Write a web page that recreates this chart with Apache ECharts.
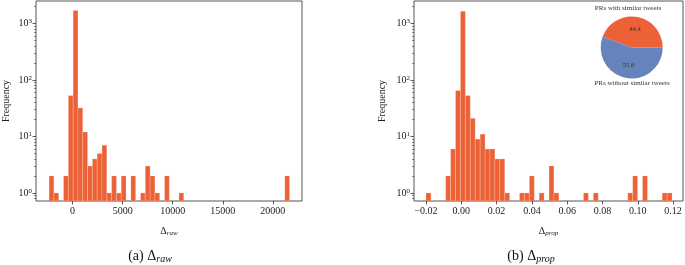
<!DOCTYPE html>
<html><head><meta charset="utf-8">
<script src="https://cdn.jsdelivr.net/npm/echarts@6/dist/echarts.min.js"></script>
<style>html,body{margin:0;padding:0;background:#fff}#c{width:685px;height:265px}</style>
</head><body><div id="c"></div>
<script>
// ---- data ----
const rawBinStart = -2350;
const rawBinWidth = 480.4;
const rawCounts = [2,1,0,2,53,1700,32,12,3,4,5,7,1,2,1,2,0,2,0,1,3,2,1,0,2,0,0,1,
  0,0,0,0,0,0,0,0,0,0,0,0,0,0,0,0,0,0,0,0,0,2];
const propBinStart = -0.0200;
const propBinWidth = 0.002788;
const propCounts = [1,0,0,0,2,6,65,1650,53,21,9,11,6,6,4,4,1,0,0,1,1,2,0,1,0,3,1,0,0,0,
  0,0,1,0,1,0,0,0,0,0,0,1,2,0,2,0,0,0,1,1];
const rawTicks = [0,5000,10000,15000,20000];
const propTicks = [-0.02,0,0.02,0.04,0.06,0.08,0.10,0.12];
const yMajorTicks = [1,10,100,1000];
const yMinorTicks = [0.8,0.9,2,3,4,5,6,7,8,9,20,30,40,50,60,70,80,90,200,300,400,500,600,700,800,900,2000];
const pieNames = ['PRs with similar tweets','PRs without similar tweets'];
const pieValues = [44.4, 55.6];

// ---- style ----
const ORANGE = '#EC6135', BLUE = '#6683BC';
const FONT = 'Liberation Serif';
const YMIN = 0.72, YMAX = 2500;
const chart = echarts.init(document.getElementById('c'), null, {renderer:'canvas'});

function hist(gi, start, width, counts){
  const data = [];
  counts.forEach((c,i)=>{ if(c>0) data.push([start+i*width, start+(i+1)*width, c]); });
  return {type:'custom', xAxisIndex:gi, yAxisIndex:gi*2, data, clip:true,
    encode:{x:[0,1], y:2},
    renderItem(params, api){
      const p0 = api.coord([api.value(0), api.value(2)]);
      const p1 = api.coord([api.value(1), YMIN]);
      return {type:'rect', shape:{x:p0[0], y:p0[1], width:p1[0]-p0[0], height:p1[1]-p0[1]},
        style:{fill:ORANGE, stroke:'rgba(255,255,255,0.35)', lineWidth:0.6}};
    }};
}
const tickStyle = {color:'#333', width:0.8};
const labelBase = {color:'#222', fontFamily:FONT, fontSize:10};
function yAxes(gi, gap){
  return [{
    type:'log', gridIndex:gi, min:YMIN, max:YMAX, logBase:10, position:'left',
    axisLine:{show:false, onZero:false}, splitLine:{show:false},
    axisTick:{show:true, inside:false, length:3.5, lineStyle:tickStyle, customValues:yMajorTicks},
    axisLabel:{customValues:yMajorTicks, margin:4,
      formatter:v=>'{b|10}{s|'+Math.round(Math.log10(v))+'}',
      rich:{b:{fontFamily:FONT, fontSize:10, color:'#222'}, s:{fontFamily:FONT, fontSize:7, color:'#222', verticalAlign:'top', padding:[0,0,4,0]}}},
    name:'Frequency', nameLocation:'middle', nameGap:gap,
    nameTextStyle:{fontFamily:FONT, fontSize:10, color:'#222'}
  },{
    type:'log', gridIndex:gi, min:YMIN, max:YMAX, logBase:10, position:'left', offset:0,
    axisLine:{show:false, onZero:false}, splitLine:{show:false},
    axisTick:{show:true, inside:false, length:2, lineStyle:{color:'#333', width:0.6}, customValues:yMinorTicks},
    axisLabel:{show:false}
  }];
}
function xAxis(gi, min, max, ticks, sub, fmt){
  return {type:'value', gridIndex:gi, min, max, position:'bottom',
    axisLine:{show:false, onZero:false}, splitLine:{show:false},
    axisTick:{show:true, inside:false, length:3.5, lineStyle:tickStyle, customValues:ticks},
    axisLabel:Object.assign({customValues:ticks, margin:5, formatter:fmt}, labelBase),
    name:'{d|Δ}{s|'+sub+'}', nameLocation:'middle', nameGap:25,
    nameTextStyle:{rich:{d:{fontFamily:FONT, fontSize:10, color:'#222'},
      s:{fontFamily:FONT, fontStyle:'italic', fontSize:7, color:'#222', verticalAlign:'bottom', padding:[4,0,0,0]}}}
  };
}
const capRich = {p:{fontFamily:FONT, fontSize:14, fontWeight:'normal', color:'#111'}, s:{fontFamily:FONT, fontSize:10, fontWeight:'normal', fontStyle:'italic', color:'#111', verticalAlign:'bottom', padding:[6,0,0,0]}};
const option = {
  animation:false,
  backgroundColor:'#fff',
  grid:[
    {left:31, top:1, width:271, height:200, show:true, borderColor:'#555', borderWidth:1, backgroundColor:'transparent'},
    {left:414, top:1, width:269, height:200, show:true, borderColor:'#555', borderWidth:1, backgroundColor:'transparent'}
  ],
  xAxis:[
    xAxis(0, -3657, 22912, rawTicks, 'raw', v=>String(v)),
    xAxis(1, -0.0268, 0.1256, propTicks, 'prop', v=>(v<0?'\u2212':'')+Math.abs(v).toFixed(2))
  ],
  yAxis:[...yAxes(0,25), ...yAxes(1,27)],
  title:[
    {text:pieNames[0], left:628, top:5, textAlign:'center', padding:0, textStyle:{fontFamily:FONT, fontSize:7, fontWeight:'normal', color:'#333'}},
    {text:pieNames[1], left:632, top:80, textAlign:'center', padding:0, textStyle:{fontFamily:FONT, fontSize:7, fontWeight:'normal', color:'#333'}},
    {text:'{p|(a) Δ}{s|raw}', left:150, top:248, textAlign:'center', padding:0, textStyle:{fontWeight:'normal', rich:capRich}},
    {text:'{p|(b) Δ}{s|prop}', left:531, top:248, textAlign:'center', padding:0, textStyle:{fontWeight:'normal', rich:capRich}}
  ],
  series:[
    hist(0, rawBinStart, rawBinWidth, rawCounts),
    hist(1, propBinStart, propBinWidth, propCounts),
    {type:'pie', center:[631.7,47.5], radius:31, startAngle:0, clockwise:false,
      label:{show:true, position:'inside', formatter:'{c}', fontFamily:FONT, fontSize:6.5, color:'#333'},
      labelLine:{show:false}, emphasis:{disabled:true},
      data:pieNames.map((n,i)=>({name:n, value:pieValues[i], itemStyle:{color:i===0?ORANGE:BLUE}}))}
  ]
};
chart.setOption(option);
</script>
</body></html>
